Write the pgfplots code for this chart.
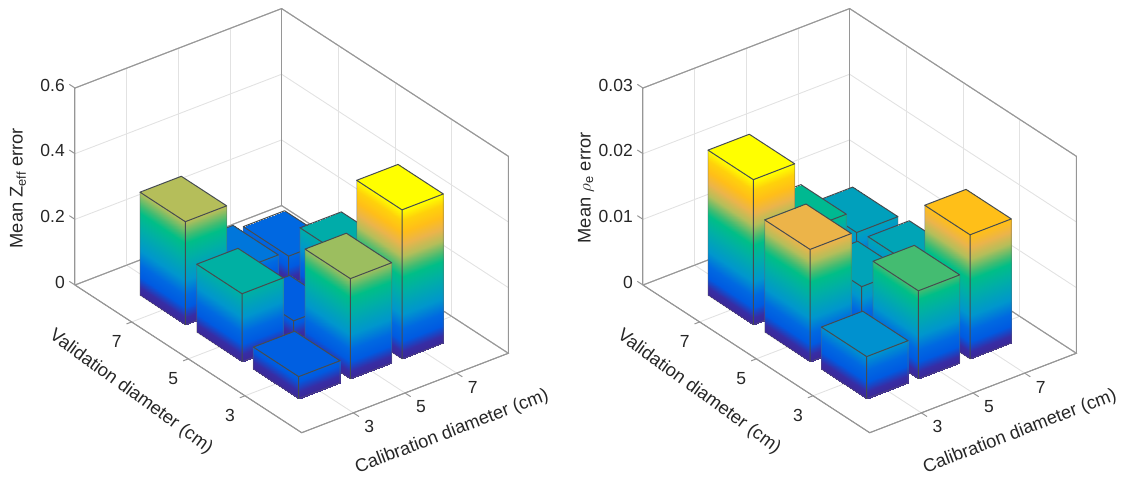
\documentclass[border=0pt]{standalone}
\usepackage{pgfplots}
\pgfplotsset{compat=1.18}
\usepackage{fontspec}
\setmainfont{Liberation Sans}
\definecolor{axgray}{RGB}{150,150,150}
\definecolor{grd}{RGB}{226,226,226}
\definecolor{txt}{RGB}{38,38,38}
\definecolor{edge}{RGB}{70,76,80}
\newcommand\lblfont{\fontsize{18.3}{20}\selectfont\color{txt}}
\pgfplotsset{
 colormap={bars}{
  rgb255(0cm)=(60,40,150)
  rgb255(5cm)=(55,45,165)
  rgb255(12cm)=(0,90,225)
  rgb255(20cm)=(0,105,225)
  rgb255(30cm)=(0,150,205)
  rgb255(45cm)=(0,175,165)
  rgb255(55cm)=(0,190,135)
  rgb255(60cm)=(60,188,115)
  rgb255(69cm)=(180,190,90)
  rgb255(77cm)=(235,180,75)
  rgb255(85cm)=(255,190,25)
  rgb255(93cm)=(255,210,10)
  rgb255(100cm)=(255,255,0)
 },
 panel/.style={
  x={(25.83pt,9.93pt)}, y={(-28.34pt,18.46pt)},
  xmin=1,xmax=9,ymin=1,ymax=9,
  anchor=origin, clip=false,
  colormap name=bars,
  xtick={3,5,7}, ytick={3,5,7},
  xticklabels={3,5,7}, yticklabels={3,5,7},
  scaled z ticks=false,
  grid=major,
  grid style={grd,line width=0.9pt},
  axis line style={axgray,line width=1pt},
  major tick length=0pt,
  font=\fontsize{17.5}{20}\selectfont\color{txt},
  xticklabel style={anchor=center,inner sep=0pt,xshift=16pt,yshift=-14pt},
  yticklabel style={anchor=center,inner sep=0pt,xshift=-15pt,yshift=-20pt},
  zticklabel style={anchor=east,inner sep=0pt,xshift=-10pt,yshift=3pt},
  xlabel={Calibration diameter (cm)},
  ylabel={Validation diameter (cm)},
 },
 boxline/.style={no marks,draw=axgray,line width=1pt},
}
\newcommand\panelbox[1]{%
 \addplot3[boxline] coordinates {(1,9,0) (1,9,#1) (9,9,#1) (9,1,#1) (9,1,0)};
 \addplot3[boxline] coordinates {(9,9,0) (9,9,#1)};
 \addplot3[boxline] coordinates {(1,9,0) (9,9,0) (9,1,0) (1,1,0) (1,9,0)};
 \addplot3[boxline] coordinates {(3,1,0) (3,0.8,0)};
 \addplot3[boxline] coordinates {(5,1,0) (5,0.8,0)};
 \addplot3[boxline] coordinates {(7,1,0) (7,0.8,0)};
 \addplot3[boxline] coordinates {(1,3,0) (0.8,3,0)};
 \addplot3[boxline] coordinates {(1,5,0) (0.8,5,0)};
 \addplot3[boxline] coordinates {(1,7,0) (0.8,7,0)};
 \addplot3[boxline] coordinates {(1,9,0) (1,9.2,0)};
 \addplot3[boxline] coordinates {(1,9,#1) (1,9.2,#1)};
}
\newcommand\ztk[1]{\addplot3[boxline] coordinates {(1,9,#1) (1,9.2,#1)};}
\newcommand\onebar[3]{%
 \pgfmathsetmacro\xa{#1-0.8}\pgfmathsetmacro\xb{#1+0.8}%
 \pgfmathsetmacro\ya{#2-0.8}\pgfmathsetmacro\yb{#2+0.8}%
 \addplot3[surf,shader=interp,mesh/rows=2,mesh/cols=2,point meta=z] coordinates {(\xa,\ya,#3) (\xb,\ya,#3) (\xa,\yb,#3) (\xb,\yb,#3)};
 \addplot3[surf,shader=interp,mesh/rows=2,mesh/cols=2,point meta=z] coordinates {(\xa,\ya,0) (\xb,\ya,0) (\xa,\ya,#3) (\xb,\ya,#3)};
 \addplot3[surf,shader=interp,mesh/rows=2,mesh/cols=2,point meta=z] coordinates {(\xa,\ya,0) (\xa,\yb,0) (\xa,\ya,#3) (\xa,\yb,#3)};
 \addplot3[no marks,draw=black!60,draw opacity=0.5,line width=0.7pt] coordinates {(\xb,\ya,#3) (\xb,\ya,0) (\xa,\ya,0) (\xa,\yb,0) (\xa,\yb,#3)};
 \addplot3[no marks,draw=edge,line width=1pt,line join=round] coordinates {(\xa,\ya,#3) (\xb,\ya,#3) (\xb,\yb,#3) (\xa,\yb,#3) (\xa,\ya,#3) (\xa,\ya,0)};
}
\begin{document}
\begin{tikzpicture}[x=1pt,y=1pt]
\path[use as bounding box] (0,0) rectangle (1124,483);
\begin{axis}[panel,
  at={(301.7pt,50.3pt)},
  z={(0pt,328.33pt)}, zmin=0,zmax=0.6,
  ztick={0,0.2,0.4,0.6}, zticklabels={0,0.2,0.4,0.6},
  point meta min=0, point meta max=0.454,
  zlabel={Mean Z\textsubscript{eff} error},
  every axis z label/.style={at={(axis cs:-0.388,9.746,0.295)},anchor=center,rotate=90,font=\lblfont},
  every axis y label/.style={at={(axis cs:-1.635,4.622,0)},anchor=center,rotate=-36,font=\lblfont},
  every axis x label/.style={at={(axis cs:4.685,-0.944,0)},anchor=center,rotate=21,font=\lblfont},
]
\panelbox{0.6}
\ztk{0.2}\ztk{0.4}
\onebar{7}{7}{0.088}
\onebar{5}{7}{0.104}
\onebar{7}{5}{0.197}
\onebar{3}{7}{0.314}
\onebar{5}{5}{0.064}
\onebar{7}{3}{0.454}
\onebar{3}{5}{0.207}
\onebar{5}{3}{0.305}
\onebar{3}{3}{0.067}
\end{axis}
\begin{axis}[panel,
  at={(869.7pt,50.3pt)},
  z={(0pt,6566.7pt)}, zmin=0,zmax=0.03,
  ztick={0,0.01,0.02,0.03}, zticklabels={0,0.01,0.02,0.03},
  point meta min=0, point meta max=0.0221,
  zlabel={Mean $\rho$\textsubscript{e} error},
  every axis z label/.style={at={(axis cs:-0.388,9.746,0.0148)},anchor=center,rotate=90,font=\lblfont},
  every axis y label/.style={at={(axis cs:-1.635,4.622,0)},anchor=center,rotate=-36,font=\lblfont},
  every axis x label/.style={at={(axis cs:4.685,-0.944,0)},anchor=center,rotate=21,font=\lblfont},
]
\panelbox{0.03}
\ztk{0.01}\ztk{0.02}
\onebar{7}{7}{0.0080}
\onebar{5}{7}{0.0114}
\onebar{7}{5}{0.0085}
\onebar{3}{7}{0.0221}
\onebar{5}{5}{0.0084}
\onebar{7}{3}{0.0189}
\onebar{3}{5}{0.0171}
\onebar{5}{3}{0.0134}
\onebar{3}{3}{0.0064}
\end{axis}
\end{tikzpicture}
\end{document}
